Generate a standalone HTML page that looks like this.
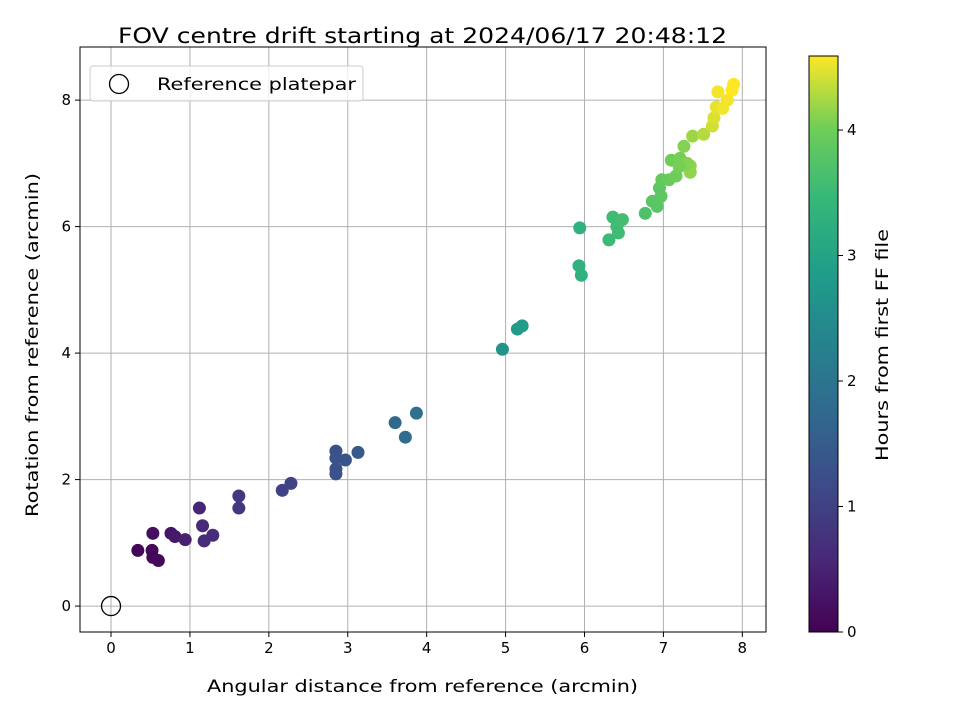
<!DOCTYPE html>
<html><head><meta charset="utf-8"><style>
body{margin:0;background:#fff;font-family:"Liberation Sans","DejaVu Sans",sans-serif;}
svg text{font-family:"DejaVu Sans","Liberation Sans",sans-serif;}
</style></head><body>
<svg id="chart" width="960" height="720" xmlns="http://www.w3.org/2000/svg">
<defs><linearGradient id="vir" x1="0" y1="1" x2="0" y2="0">
<stop offset="0" stop-color="#440154"/><stop offset="0.125" stop-color="#482878"/><stop offset="0.25" stop-color="#3e4989"/><stop offset="0.375" stop-color="#31688e"/><stop offset="0.5" stop-color="#26828e"/><stop offset="0.625" stop-color="#1f9e89"/><stop offset="0.75" stop-color="#35b779"/><stop offset="0.875" stop-color="#6ece58"/><stop offset="1" stop-color="#fde725"/></linearGradient></defs>
<g id="grid"></g><g id="pts"></g><g id="axes"></g>
</svg>
<script>
const xVals=[0.34,0.52,0.53,0.6,0.53,0.76,0.81,0.94,1.12,1.16,1.18,1.29,1.62,1.62,2.17,2.28,2.85,2.85,2.85,2.85,2.97,3.13,3.6,3.73,3.87,4.96,5.15,5.21,5.94,5.93,5.96,6.31,6.36,6.41,6.48,6.43,6.77,6.86,6.92,6.95,6.97,6.98,7.07,7.1,7.16,7.21,7.26,7.34,7.34,7.37,7.51,7.62,7.64,7.67,7.69,7.75,7.81,7.89,7.87,7.3,7.2];
const yVals=[0.88,0.88,0.77,0.72,1.15,1.15,1.1,1.05,1.55,1.27,1.03,1.12,1.74,1.55,1.83,1.94,2.45,2.34,2.17,2.09,2.31,2.43,2.9,2.67,3.05,4.06,4.38,4.43,5.98,5.38,5.23,5.79,6.15,6.0,6.11,5.9,6.21,6.4,6.32,6.61,6.48,6.74,6.74,7.05,6.8,7.08,7.27,6.96,6.86,7.43,7.46,7.59,7.72,7.89,8.13,7.87,8.0,8.25,8.16,7.0,6.95];
const tVals=[0.05,0.1,0.08,0.12,0.2,0.3,0.35,0.45,0.55,0.6,0.6,0.65,0.85,0.85,1.0,1.05,1.3,1.3,1.3,1.3,1.35,1.45,1.75,1.8,1.9,2.65,2.8,2.85,3.3,3.3,3.3,3.5,3.55,3.55,3.6,3.55,3.7,3.8,3.8,3.85,3.85,3.9,3.95,4.0,4.0,4.05,4.1,4.15,4.15,4.2,4.3,4.4,4.45,4.5,4.55,4.55,4.55,4.6,4.6,4.1,4.05];
const xTicks=[0,1,2,3,4,5,6,7,8], yTicks=[0,2,4,6,8], cTicks=[0,1,2,3,4];
const L=80,R=766,T=47,B=632,xmin=-0.393,xmax=8.30,ymin=-0.41,ymax=8.84,cmax=4.59;
const sx=v=>L+(v-xmin)/(xmax-xmin)*(R-L), sy=v=>B-(v-ymin)/(ymax-ymin)*(B-T);
const cy=v=>632-v/cmax*576;
const stops=["#440154","#482878","#3e4989","#31688e","#26828e","#1f9e89","#35b779","#6ece58","#fde725"];
function hx(h){return [1,3,5].map(i=>parseInt(h.substr(i,2),16));}
function vir(f){f=Math.max(0,Math.min(1,f))*8;const i=Math.min(7,Math.floor(f)),r=f-i;const a=hx(stops[i]),b=hx(stops[i+1]);return `rgb(${a.map((c,k)=>Math.round(c+(b[k]-c)*r)).join(',')})`;}
const NS="http://www.w3.org/2000/svg";
function mk(tag,attrs,parent,txt){const e=document.createElementNS(NS,tag);for(const k in attrs)e.setAttribute(k,attrs[k]);if(txt!==undefined)e.textContent=txt;parent.appendChild(e);return e;}
const g=document.getElementById('grid'),p=document.getElementById('pts'),a=document.getElementById('axes');
xTicks.forEach(v=>{const x=sx(v);
 const gl=mk('line',{x1:x,x2:x,y1:T,y2:B,stroke:'#b0b0b0','stroke-width':1},g);
 
 
 mk('line',{x1:x,x2:x,y1:B,y2:B+5,stroke:'#000'},a);
 const t=mk('text',{x:x,y:B+21,'font-size':15,'text-anchor':'middle'},a,String(v));
 
 });
yTicks.forEach(v=>{const y=sy(v);
 const gl=mk('line',{x1:L,x2:R,y1:y,y2:y,stroke:'#b0b0b0','stroke-width':1},g);
 
 
 mk('line',{x1:L-5,x2:L,y1:y,y2:y,stroke:'#000'},a);
 const t=mk('text',{x:L-9,y:y+5,'font-size':15,'text-anchor':'end'},a,String(v));
 
 });
xVals.forEach((v,i)=>{const c=mk('circle',{cx:sx(v),cy:sy(yVals[i]),r:6.5,fill:vir(tVals[i]/cmax)},p);
 
 });
const ref=mk('circle',{cx:sx(0),cy:sy(0),r:9.5,fill:'none',stroke:'#000','stroke-width':1.3},p);


const fr=mk('rect',{x:L,y:T,width:R-L,height:B-T,fill:'none',stroke:'#000','stroke-width':1},a);


const cb=mk('rect',{x:809,y:56,width:29,height:576,fill:'url(#vir)',stroke:'#000','stroke-width':1},a);


cTicks.forEach(v=>{const y=cy(v);mk('line',{x1:838,x2:843,y1:y,y2:y,stroke:'#000'},a);
 const t=mk('text',{x:847,y:y+5,'font-size':15},a,String(v));
 
 });
</script>
<svg style="position:absolute;left:0;top:0" width="960" height="720" xmlns="http://www.w3.org/2000/svg">
<text x="118" y="43" font-size="21" textLength="609" lengthAdjust="spacingAndGlyphs" font-family="DejaVu Sans, sans-serif">FOV centre drift starting at 2024/06/17 20:48:12</text>
<text x="207" y="692" font-size="17" textLength="431" lengthAdjust="spacingAndGlyphs" font-family="DejaVu Sans, sans-serif">Angular distance from reference (arcmin)</text>
<text transform="translate(38,517) rotate(-90)" font-size="17" textLength="344" lengthAdjust="spacingAndGlyphs" font-family="DejaVu Sans, sans-serif">Rotation from reference (arcmin)</text>
<text transform="translate(888,461) rotate(-90)" font-size="17" textLength="232" lengthAdjust="spacingAndGlyphs" font-family="DejaVu Sans, sans-serif">Hours from first FF file</text>
<g>
<rect x="90" y="66" width="273" height="35" rx="3" fill="#fff" fill-opacity="0.8" stroke="#ccc"/>
<circle cx="119" cy="84" r="9.5" fill="none" stroke="#000" stroke-width="1.3"/>
<text x="157" y="90" font-size="17" textLength="199" lengthAdjust="spacingAndGlyphs" font-family="DejaVu Sans, sans-serif">Reference platepar</text>
</g>
</svg>
</body></html>
